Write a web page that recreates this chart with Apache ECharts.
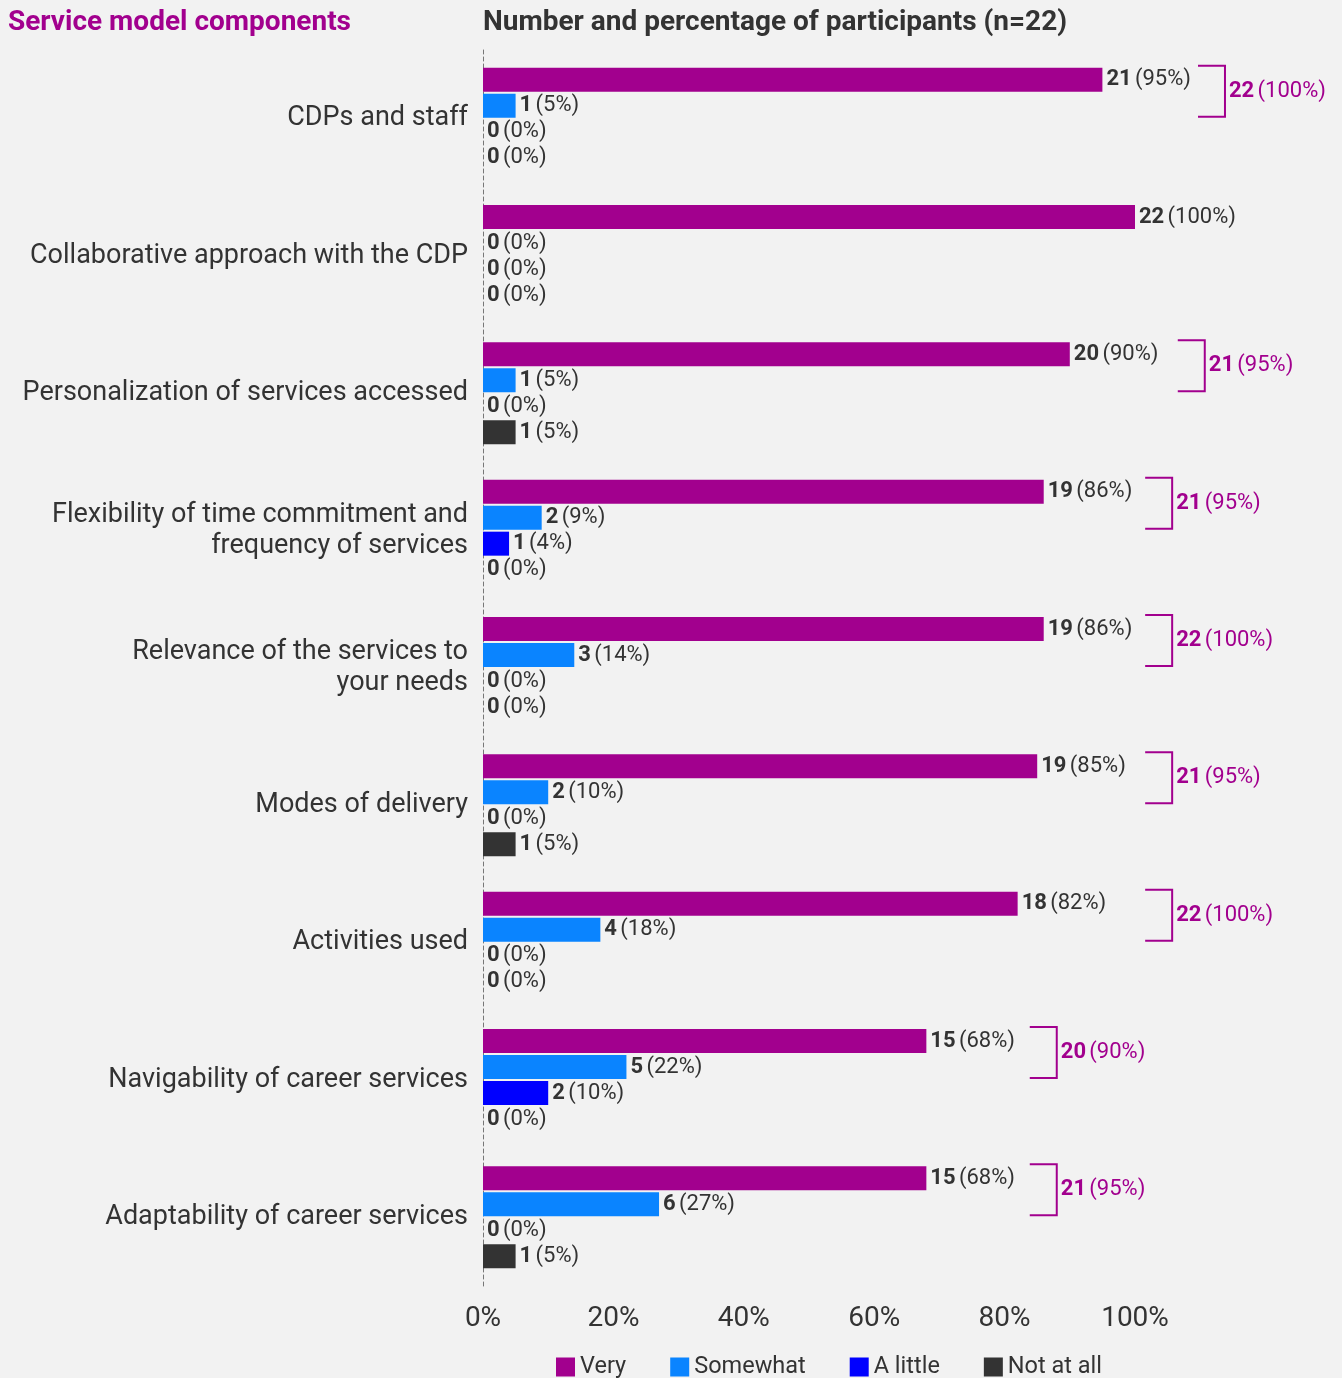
<!DOCTYPE html>
<html>
<head>
<meta charset="utf-8">
<script src="https://cdn.jsdelivr.net/npm/echarts@6/dist/echarts.min.js"></script>
<style>
html,body{margin:0;padding:0;background:#f2f2f2;}
#chart{width:1342px;height:1378px;}
</style>
</head>
<body>
<div id="chart"></div>
<script>
// ---- data ----
const categories = [
  'CDPs and staff',
  'Collaborative approach with the CDP',
  'Personalization of services accessed',
  'Flexibility of time commitment and\nfrequency of services',
  'Relevance of the services to\nyour needs',
  'Modes of delivery',
  'Activities used',
  'Navigability of career services',
  'Adaptability of career services'
];
const seriesNames = ['Very', 'Somewhat', 'A little', 'Not at all'];
const veryN = [21, 22, 20, 19, 19, 19, 18, 15, 15];
const veryPct = [95, 100, 90, 86, 86, 85, 82, 68, 68];
const someN = [1, 0, 1, 2, 3, 2, 4, 5, 6];
const somePct = [5, 0, 5, 9, 14, 10, 18, 22, 27];
const littleN = [0, 0, 0, 1, 0, 0, 0, 2, 0];
const littlePct = [0, 0, 0, 4, 0, 0, 0, 10, 0];
const notN = [0, 0, 1, 0, 0, 1, 0, 0, 1];
const notPct = [0, 0, 5, 0, 0, 5, 0, 0, 5];
const totalN = [22, null, 21, 21, 22, 21, 22, 20, 21];
const totalPct = [100, null, 95, 95, 100, 95, 100, 90, 95];
const xTicks = [0, 20, 40, 60, 80, 100];

// ---- layout (annotation placement, in axis units) ----
const bracketX = [113.8, null, 110.7, 105.7, 105.7, 105.7, 105.7, 88.0, 88.0];

const colors = ['#a2008e', '#0a84ff', '#0000ff', '#333333'];
const FONT = 'Roboto';
const BAR_W = 24, BAR_GAP = 2;

const counts = [veryN, someN, littleN, notN];
const pcts = [veryPct, somePct, littlePct, notPct];

function barSeries(k) {
  return {
    name: seriesNames[k],
    type: 'bar',
    barWidth: BAR_W,
    barGap: (BAR_GAP / BAR_W * 100) + '%',
    itemStyle: { color: colors[k] },
    data: pcts[k].map((v, i) => ({ value: v, n: counts[k][i] })),
    label: {
      show: true,
      position: 'right',
      distance: 4,
      formatter: p => '{b|' + p.data.n + '} {p|(' + p.data.value + '%)}',
      rich: {
        b: { fontFamily: FONT, fontSize: 22, fontWeight: 'bold', color: '#333' },
        p: { fontFamily: FONT, fontSize: 22, color: '#333' }
      }
    }
  };
}

const bracketData = [];
categories.forEach((c, i) => {
  if (totalN[i] != null) bracketData.push([bracketX[i], i, totalN[i], totalPct[i]]);
});

const bracketSeries = {
  type: 'custom',
  name: 'bracket',
  silent: true,
  clip: false,
  data: bracketData,
  encode: { x: 0, y: 1 },
  renderItem: function (params, api) {
    const pt = api.coord([api.value(0), api.value(1)]);
    const x = pt[0], cy = pt[1];
    const groupH = 4 * BAR_W + 3 * BAR_GAP;
    const top = cy - groupH / 2 - 2;
    const bot = cy - groupH / 2 + 2 * BAR_W + BAR_GAP - 1;
    const hook = 27;
    const mid = (top + bot) / 2;
    return {
      type: 'group',
      children: [
        {
          type: 'polyline',
          shape: { points: [[x - hook, top], [x, top], [x, bot], [x - hook, bot]] },
          style: { stroke: colors[0], lineWidth: 2, fill: null }
        },
        {
          type: 'text',
          x: x + 4,
          y: mid,
          style: {
            text: '{b|' + api.value(2) + '} {p|(' + api.value(3) + '%)}',
            verticalAlign: 'middle',
            align: 'left',
            rich: {
              b: { fontFamily: FONT, fontSize: 22, fontWeight: 'bold', fill: colors[0] },
              p: { fontFamily: FONT, fontSize: 22, fill: colors[0] }
            }
          }
        }
      ]
    };
  },
  z: 5
};

const chart = echarts.init(document.getElementById('chart'), null, { renderer: 'canvas' });
chart.setOption({
  backgroundColor: '#f2f2f2',
  animation: false,
  title: [
    { text: 'Service model components', left: 3, top: 4,
      textStyle: { fontFamily: FONT, fontSize: 28, fontWeight: 'bold', color: '#a2008e' } },
    { text: 'Number and percentage of participants (n=22)', left: 478, top: 4,
      textStyle: { fontFamily: FONT, fontSize: 28, fontWeight: 'bold', color: '#333' } }
  ],
  legend: {
    data: seriesNames,
    left: 551,
    top: 1350,
    itemWidth: 19,
    itemHeight: 19,
    itemGap: 44,
    icon: 'rect',
    textStyle: { fontFamily: FONT, fontSize: 23.5, color: '#333' }
  },
  grid: { left: 483, right: 207, top: 50, bottom: 92, containLabel: false },
  xAxis: {
    type: 'value',
    min: 0, max: 100, interval: 20,
    axisLine: { show: false },
    axisTick: { show: false },
    splitLine: { show: false },
    axisLabel: {
      margin: 19,
      fontFamily: FONT, fontSize: 28, color: '#333',
      formatter: v => xTicks.indexOf(v) >= 0 ? v + '%' : ''
    }
  },
  yAxis: {
    type: 'category',
    inverse: true,
    data: categories,
    axisLine: { show: true, lineStyle: { color: '#777', type: [4, 3], width: 1 } },
    axisTick: { show: false },
    axisLabel: {
      margin: 15,
      fontFamily: FONT, fontSize: 27, color: '#333', lineHeight: 31, align: 'right'
    }
  },
  series: [barSeries(0), barSeries(1), barSeries(2), barSeries(3), bracketSeries]
});
</script>
</body>
</html>
